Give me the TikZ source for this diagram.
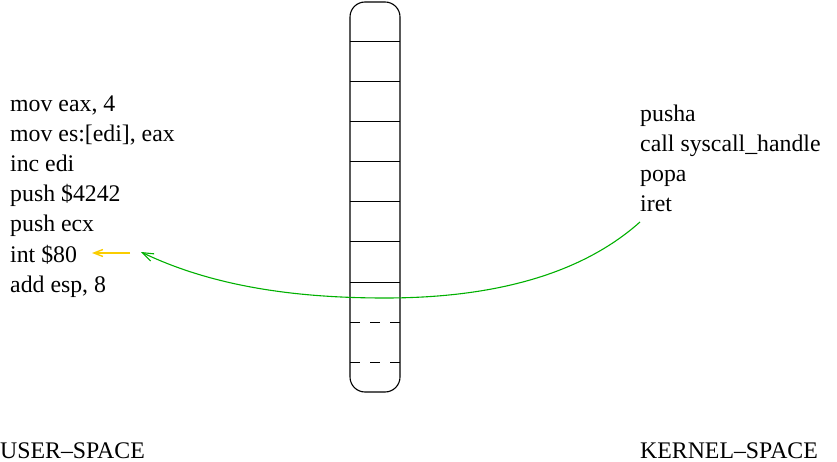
\documentclass[tikz,border=0pt]{standalone}
\usepackage{fontspec}
\setmainfont{Liberation Serif}
\usetikzlibrary{arrows.meta}
\definecolor{mygreen}{RGB}{0,176,0}
\definecolor{mygold}{RGB}{250,205,0}
\begin{document}
\begin{tikzpicture}[x=1pt,y=-1pt,
  code/.style={anchor=base west,inner sep=0pt,font=\fontsize{23.8}{30}\selectfont},
  slotline/.style={line width=1pt},
  dslot/.style={line width=1pt,dash pattern=on 10pt off 10pt}]
\useasboundingbox (0,0) rectangle (837,462);
% stack column
\draw[line width=1.1pt,rounded corners=15pt] (350,2) rectangle (400,392);
\foreach \yy in {42,82,122,162,202,242,282}
  \draw[slotline] (350,\yy) -- (400,\yy);
\foreach \yy in {322,362}
  \draw[dslot] (350,\yy) -- (400,\yy);
% user space code
\node[code] (u1) at (10,112) {mov eax, 4};
\node[code] (u2) at (10,142) {mov es:[edi], eax};
\node[code] (u3) at (10,172) {inc edi};
\node[code] (u4) at (10,202) {push \$4242};
\node[code] (u5) at (10,232) {push ecx};
\node[code] (u6) at (10,262) {int \$80};
\node[code] (u7) at (10,292) {add esp, 8};
% kernel code
\node[code] (k1) at (640,122) {pusha};
\node[code] (k2) at (640,152) {call syscall\_handle};
\node[code] (k3) at (640,182) {popa};
\node[code] (k4) at (640,212) {iret};
% labels
\node[code] (us) at (0,458) {USER--SPACE};
\node[code] (ks) at (640,458) {KERNEL--SPACE};
% arrows
\coordinate (ystart) at (130,253);
\coordinate (yend) at (92,253);
\draw[mygold,line width=1.4pt,-{Straight Barb[length=9pt,width=7pt]}] (ystart) -- (yend);
\coordinate (gstart) at (640,222);
\coordinate (gmid) at (385,298);
\coordinate (gend) at (141,252);
\draw[mygreen,line width=1.1pt,-{Straight Barb[length=11pt,width=8pt]}]
  (gstart) .. controls (575,280) and (480,298) .. (gmid)
  .. controls (290,298) and (210,285) .. (gend);
\end{tikzpicture}
\end{document}
